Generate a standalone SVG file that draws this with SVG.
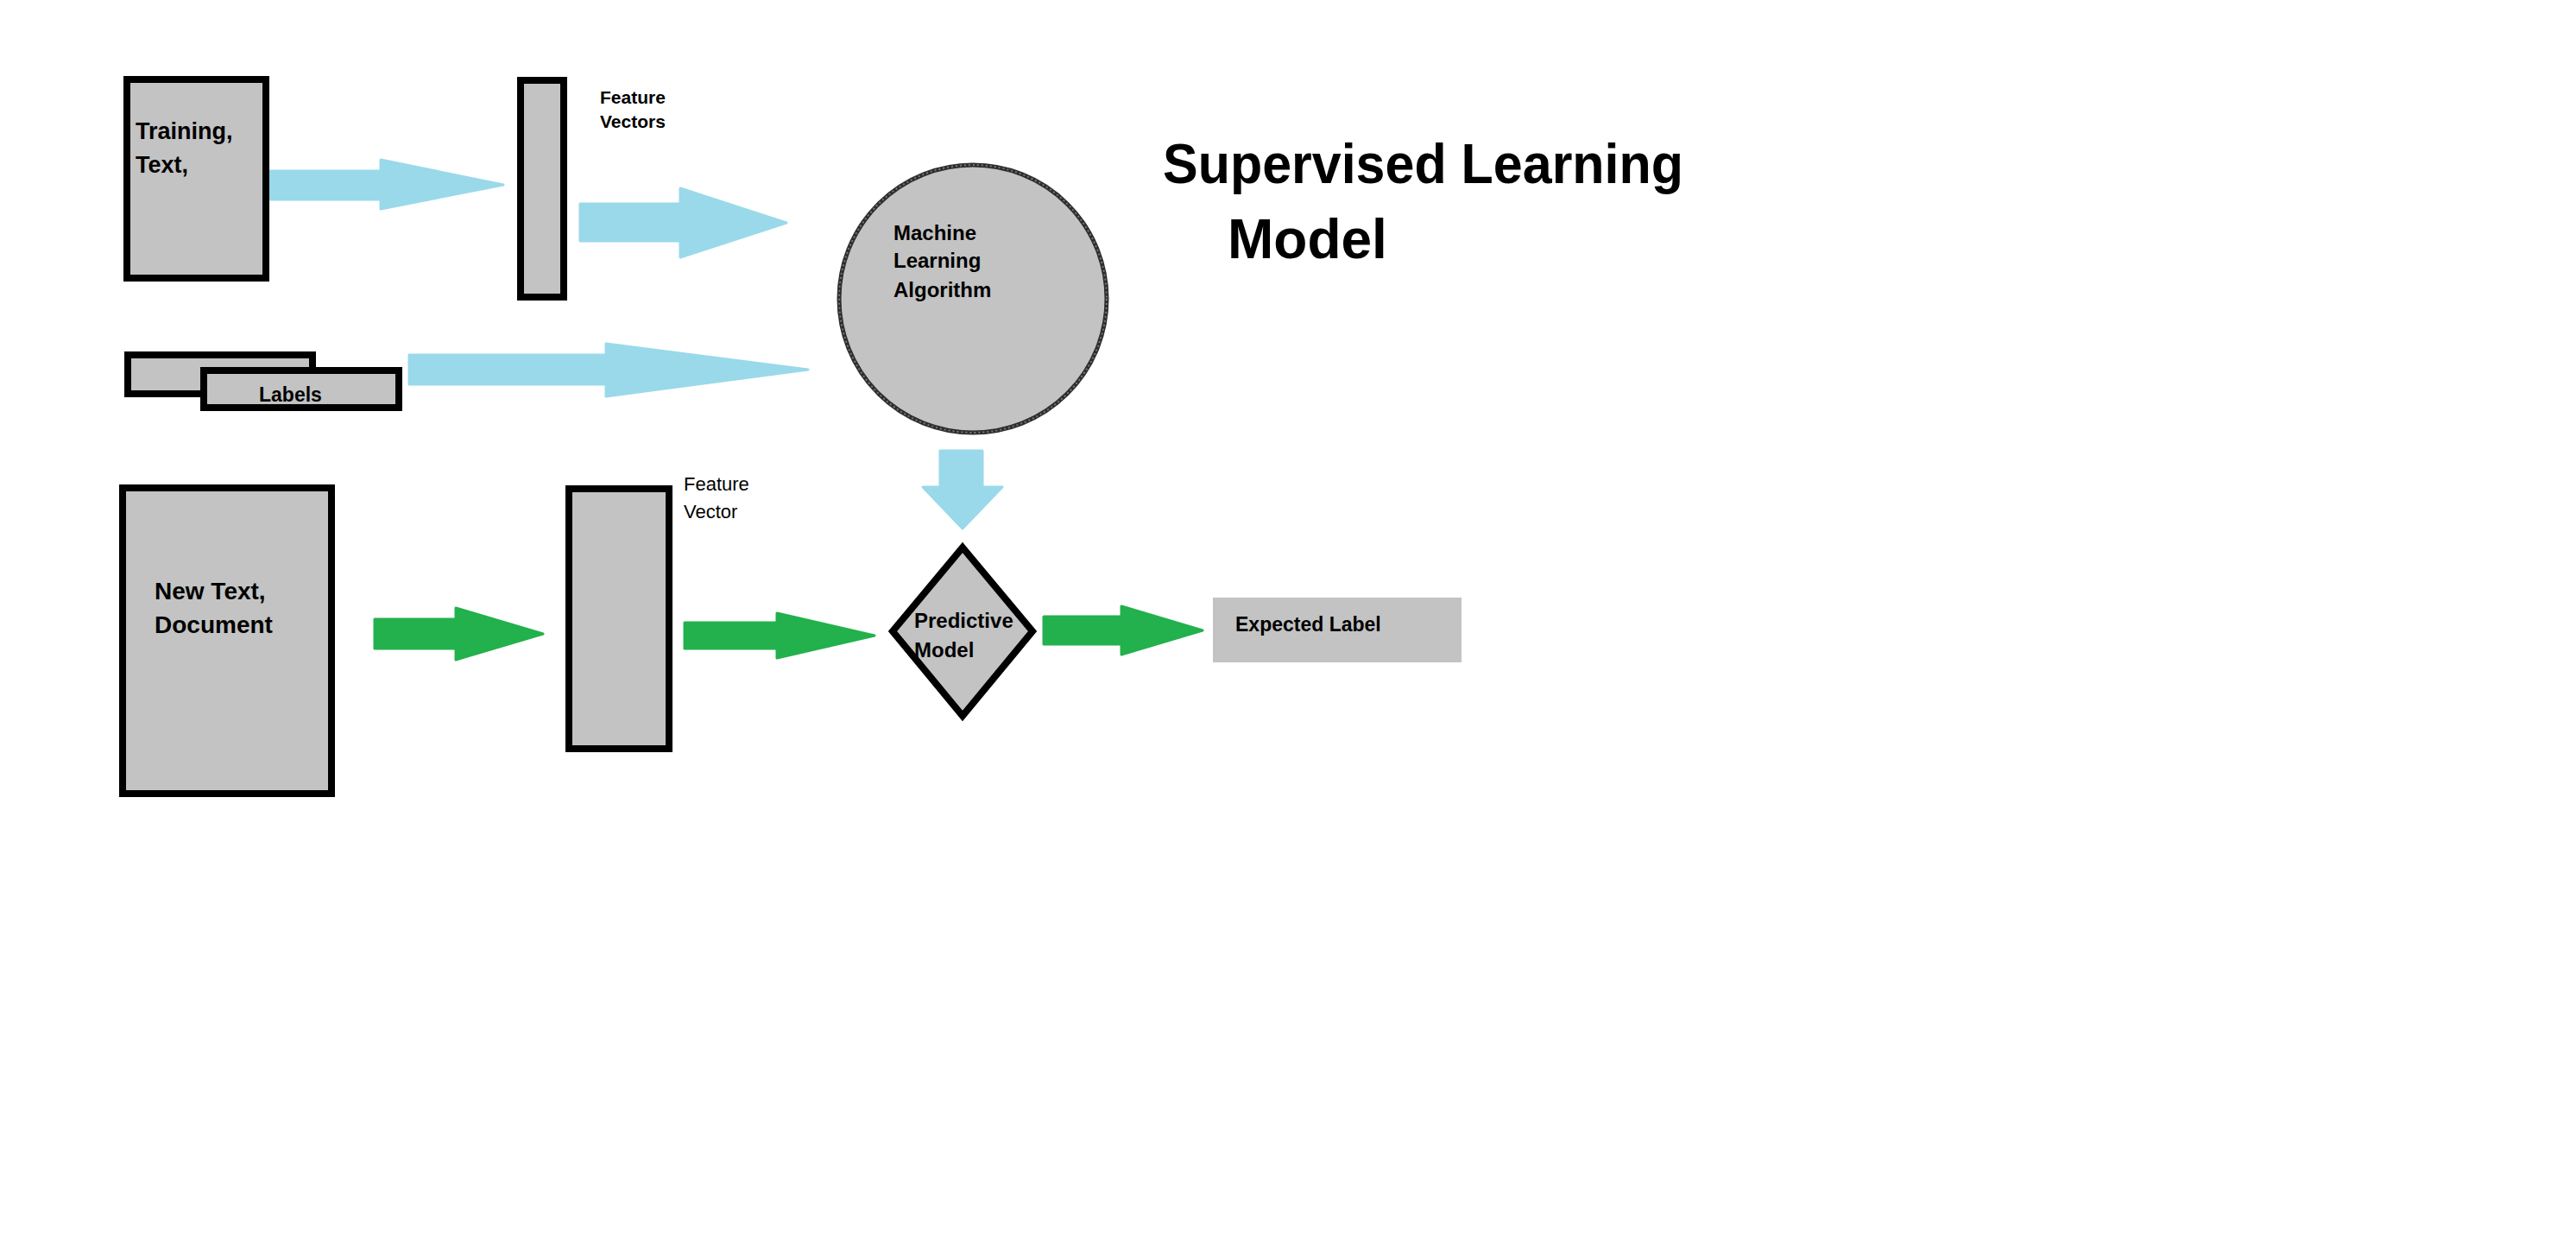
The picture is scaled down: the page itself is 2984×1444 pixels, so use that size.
<svg xmlns="http://www.w3.org/2000/svg" width="2984" height="1444" viewBox="0 0 2984 1444">
<style>
.box{fill:#c3c3c3;stroke:#000;stroke-width:8}
.t{font-family:"Liberation Sans",Arial,sans-serif;fill:#000}
.b{font-weight:bold}
.blue{fill:#99d9ea;stroke:#99d9ea;stroke-width:3;stroke-linejoin:round}
.green{fill:#22b14c;stroke:#22b14c;stroke-width:3;stroke-linejoin:round}
</style>
<rect width="2984" height="1444" fill="#fff"/>
<g id="title">
<text class="t b" x="1347" y="212" font-size="64" textLength="603" lengthAdjust="spacingAndGlyphs">Supervised Learning</text>
<text class="t b" x="1422" y="299" font-size="64">Model</text>
</g>
<g id="connectors">
<path class="blue" d="M313,198 H441 V185 L583,214 L441,242 V231 H313 Z"/>
<path class="blue" d="M672,236 H788 V218 L911,258 L788,298 V279 H672 Z"/>
<path class="blue" d="M474,411 H702 V398 L936,428 L702,459 V445 H474 Z"/>
<path class="blue" d="M1089,522 H1138 V564 H1161 L1115,612 L1069,564 H1089 Z"/>
<path class="green" d="M434,717 H528 V704 L629,734 L528,764 V751 H434 Z"/>
<path class="green" d="M793,721 H900 V710 L1013,736 L900,762 V751 H793 Z"/>
<path class="green" d="M1209,714 H1299 V702 L1393,730 L1299,758 V746 H1209 Z"/>
</g>
<g id="training-text">
<rect class="box" x="147" y="92" width="161" height="230"/>
<text class="t b" x="157" y="161" font-size="27">Training,</text>
<text class="t b" x="157" y="200" font-size="27">Text,</text>
</g>
<g id="feature-vectors">
<rect class="box" x="603" y="93" width="50" height="251"/>
<text class="t b" x="695" y="120" font-size="21">Feature</text>
<text class="t b" x="695" y="148" font-size="21">Vectors</text>
</g>
<g id="labels">
<rect class="box" x="148" y="411" width="214" height="45"/>
<rect class="box" x="236" y="429" width="226" height="43"/>
<text class="t b" x="300" y="465" font-size="23">Labels</text>
</g>
<g id="ml-algorithm">
<circle cx="1127" cy="346" r="155" fill="#c3c3c3" stroke="#2e2e2e" stroke-width="5"/>
<circle cx="1127" cy="346" r="155" fill="none" stroke="#777" stroke-width="2" stroke-dasharray="2 3"/>
<text class="t b" x="1035" y="278" font-size="24">Machine</text>
<text class="t b" x="1035" y="310" font-size="24">Learning</text>
<text class="t b" x="1035" y="344" font-size="24">Algorithm</text>
</g>
<g id="new-text">
<rect class="box" x="142" y="565" width="242" height="354"/>
<text class="t b" x="179" y="694" font-size="28">New Text,</text>
<text class="t b" x="179" y="733" font-size="28">Document</text>
</g>
<g id="feature-vector">
<rect class="box" x="659" y="566" width="116" height="301"/>
<text class="t" x="792" y="568" font-size="22">Feature</text>
<text class="t" x="792" y="600" font-size="22">Vector</text>
</g>
<g id="predictive-model">
<polygon class="box" points="1115,634 1196,731 1115,829 1034,731"/>
<text class="t b" x="1059" y="727" font-size="24">Predictive</text>
<text class="t b" x="1059" y="761" font-size="24">Model</text>
</g>
<g id="expected-label">
<rect x="1405" y="692" width="288" height="75" fill="#c3c3c3"/>
<text class="t b" x="1431" y="731" font-size="23">Expected Label</text>
</g>
</svg>
